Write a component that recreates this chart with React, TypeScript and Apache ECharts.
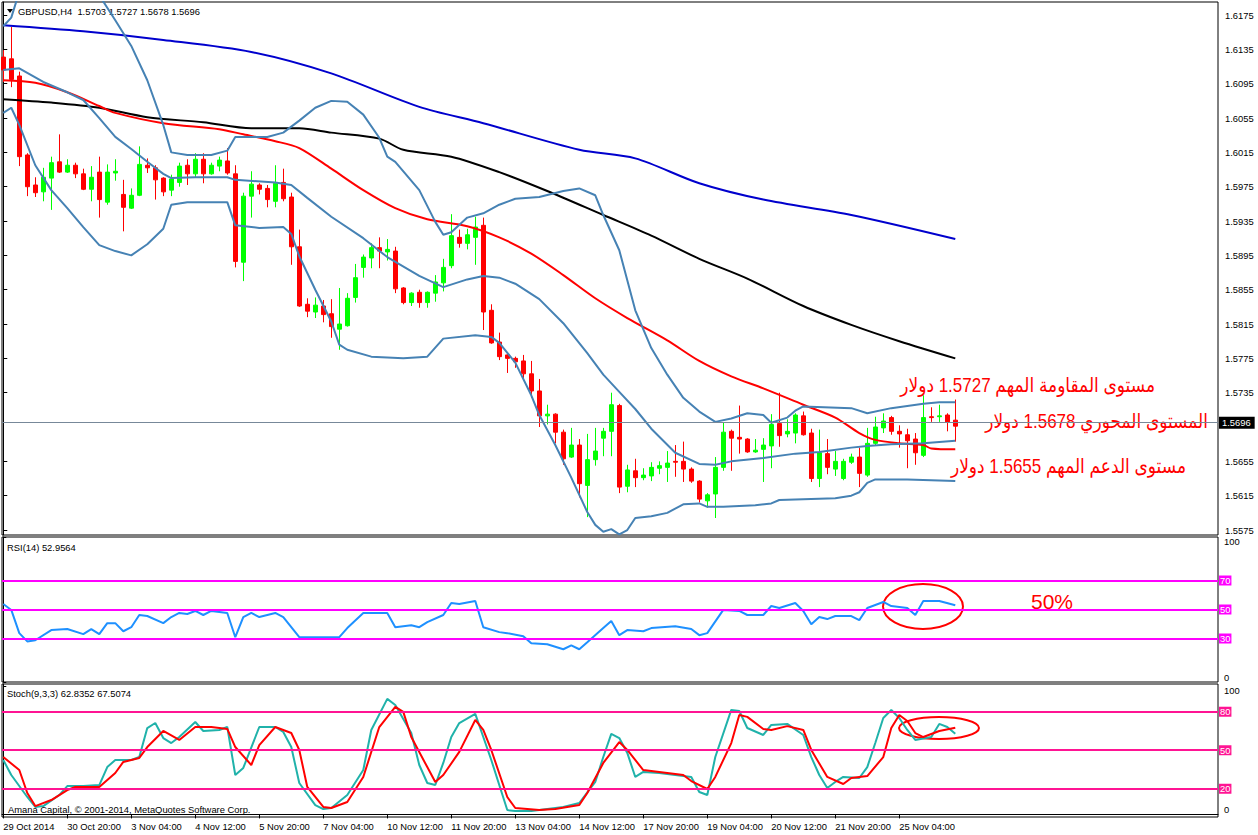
import React, { useEffect, useRef } from "react";
import * as echarts from "echarts";

const FONT = '"Liberation Sans", Arial, sans-serif';
const AR_FONT = '"Liberation Sans", "DejaVu Sans", sans-serif';

// GBPUSD H4 candles: [open, high, low, close]
const candles: number[][] = [
  [1.6126, 1.6134, 1.6097, 1.6111], [1.6124, 1.6161, 1.6091, 1.6100], [1.6104, 1.6109, 1.5999, 1.6010],
  [1.6012, 1.6014, 1.5964, 1.5975], [1.5977, 1.5986, 1.5963, 1.5968], [1.5969, 1.5997, 1.5958, 1.5986],
  [1.5985, 1.6010, 1.5948, 1.6003], [1.6004, 1.6036, 1.5991, 1.5992], [1.5992, 1.6007, 1.5991, 1.6000],
  [1.6000, 1.6003, 1.5985, 1.5990], [1.5990, 1.5996, 1.5971, 1.5972], [1.5972, 1.5999, 1.5958, 1.5986],
  [1.5992, 1.6010, 1.5939, 1.5960], [1.5957, 1.6001, 1.5954, 1.5992], [1.5991, 1.6007, 1.5982, 1.5993],
  [1.5966, 1.5983, 1.5923, 1.5951], [1.5950, 1.5973, 1.5949, 1.5965], [1.5965, 1.6022, 1.5964, 1.6001],
  [1.6000, 1.6008, 1.5991, 1.5997], [1.5997, 1.6000, 1.5960, 1.5983], [1.5985, 1.5986, 1.5964, 1.5969],
  [1.5971, 1.5989, 1.5964, 1.5984], [1.5980, 1.6003, 1.5975, 1.5999], [1.6000, 1.6007, 1.5977, 1.5990],
  [1.5990, 1.6014, 1.5986, 1.6007], [1.6007, 1.6014, 1.5979, 1.5990], [1.5990, 1.6003, 1.5989, 1.6000],
  [1.5999, 1.6010, 1.5993, 1.6006], [1.6005, 1.6020, 1.5989, 1.5991], [1.5990, 1.6000, 1.5881, 1.5888],
  [1.5887, 1.5968, 1.5865, 1.5964], [1.5964, 1.5993, 1.5939, 1.5978], [1.5977, 1.5979, 1.5966, 1.5972],
  [1.5973, 1.5977, 1.5951, 1.5960], [1.5958, 1.6000, 1.5951, 1.5979], [1.5980, 1.5996, 1.5958, 1.5961],
  [1.5963, 1.5968, 1.5884, 1.5905], [1.5905, 1.5925, 1.5835, 1.5836], [1.5838, 1.5845, 1.5823, 1.5830],
  [1.5829, 1.5846, 1.5822, 1.5837], [1.5836, 1.5843, 1.5817, 1.5826], [1.5827, 1.5844, 1.5799, 1.5812],
  [1.5809, 1.5857, 1.5785, 1.5815], [1.5813, 1.5851, 1.5812, 1.5845], [1.5846, 1.5885, 1.5840, 1.5869],
  [1.5881, 1.5896, 1.5869, 1.5893], [1.5892, 1.5909, 1.5880, 1.5904], [1.5904, 1.5916, 1.5880, 1.5900],
  [1.5899, 1.5914, 1.5889, 1.5902], [1.5900, 1.5905, 1.5851, 1.5856], [1.5857, 1.5858, 1.5838, 1.5840],
  [1.5840, 1.5852, 1.5836, 1.5851], [1.5852, 1.5855, 1.5834, 1.5840], [1.5840, 1.5853, 1.5834, 1.5852],
  [1.5851, 1.5872, 1.5841, 1.5864], [1.5863, 1.5891, 1.5853, 1.5881], [1.5883, 1.5943, 1.5880, 1.5918],
  [1.5916, 1.5925, 1.5904, 1.5909], [1.5909, 1.5926, 1.5902, 1.5919], [1.5916, 1.5940, 1.5884, 1.5928],
  [1.5930, 1.5939, 1.5808, 1.5829], [1.5831, 1.5838, 1.5792, 1.5793], [1.5794, 1.5805, 1.5773, 1.5777],
  [1.5779, 1.5780, 1.5758, 1.5775], [1.5775, 1.5777, 1.5764, 1.5771], [1.5772, 1.5779, 1.5750, 1.5757],
  [1.5757, 1.5772, 1.5729, 1.5737], [1.5737, 1.5751, 1.5695, 1.5708], [1.5708, 1.5721, 1.5698, 1.5710],
  [1.5710, 1.5711, 1.5676, 1.5689], [1.5689, 1.5692, 1.5651, 1.5658], [1.5660, 1.5694, 1.5659, 1.5674],
  [1.5674, 1.5681, 1.5613, 1.5629], [1.5627, 1.5687, 1.5590, 1.5657], [1.5657, 1.5694, 1.5650, 1.5667],
  [1.5682, 1.5694, 1.5661, 1.5690], [1.5690, 1.5735, 1.5661, 1.5721], [1.5720, 1.5722, 1.5618, 1.5625],
  [1.5626, 1.5651, 1.5619, 1.5645], [1.5644, 1.5658, 1.5625, 1.5636], [1.5636, 1.5647, 1.5633, 1.5639],
  [1.5638, 1.5654, 1.5632, 1.5648], [1.5647, 1.5655, 1.5640, 1.5650], [1.5648, 1.5667, 1.5631, 1.5653],
  [1.5655, 1.5674, 1.5637, 1.5654], [1.5655, 1.5678, 1.5631, 1.5646], [1.5646, 1.5648, 1.5630, 1.5632],
  [1.5632, 1.5633, 1.5607, 1.5611], [1.5609, 1.5618, 1.5601, 1.5616], [1.5617, 1.5660, 1.5589, 1.5648],
  [1.5648, 1.5700, 1.5644, 1.5689], [1.5690, 1.5692, 1.5644, 1.5682], [1.5683, 1.5720, 1.5664, 1.5681],
  [1.5681, 1.5682, 1.5665, 1.5666], [1.5666, 1.5681, 1.5665, 1.5668], [1.5669, 1.5682, 1.5631, 1.5674],
  [1.5673, 1.5710, 1.5647, 1.5698], [1.5699, 1.5735, 1.5672, 1.5685], [1.5687, 1.5704, 1.5683, 1.5690],
  [1.5688, 1.5711, 1.5676, 1.5709], [1.5708, 1.5713, 1.5685, 1.5686], [1.5688, 1.5693, 1.5631, 1.5635],
  [1.5635, 1.5692, 1.5625, 1.5665], [1.5664, 1.5681, 1.5640, 1.5648], [1.5646, 1.5667, 1.5638, 1.5655],
  [1.5635, 1.5658, 1.5633, 1.5655], [1.5654, 1.5664, 1.5652, 1.5660], [1.5660, 1.5671, 1.5625, 1.5641],
  [1.5639, 1.5694, 1.5637, 1.5676], [1.5676, 1.5707, 1.5674, 1.5695], [1.5694, 1.5711, 1.5688, 1.5702],
  [1.5706, 1.5708, 1.5686, 1.5690], [1.5690, 1.5697, 1.5671, 1.5687], [1.5686, 1.5693, 1.5647, 1.5679],
  [1.5681, 1.5688, 1.5651, 1.5665], [1.5662, 1.5732, 1.5660, 1.5706], [1.5707, 1.5718, 1.5701, 1.5706],
  [1.5707, 1.5721, 1.5701, 1.5708], [1.5709, 1.5711, 1.5690, 1.5701], [1.5703, 1.5727, 1.5678, 1.5696],
];

// time labels, one every 8 bars
const timeLabels = [
  "29 Oct 2014", "30 Oct 20:00", "3 Nov 04:00", "4 Nov 12:00", "5 Nov 20:00", "7 Nov 04:00",
  "10 Nov 12:00", "11 Nov 20:00", "13 Nov 04:00", "14 Nov 12:00", "17 Nov 20:00", "19 Nov 04:00",
  "20 Nov 12:00", "21 Nov 20:00", "25 Nov 04:00",
];
const priceTicks = [1.5575, 1.5615, 1.5655, 1.5735, 1.5775, 1.5815, 1.5855, 1.5895, 1.5935, 1.5975, 1.6015, 1.6055, 1.6095, 1.6135, 1.6175];
const lastPrice = 1.5696;
const rsiLevels = [70, 50, 30];
const stochLevels = [80, 50, 20];

// [bar index, value]
const blueMA = [[0, 1.6163], [10, 1.6156], [20, 1.6146], [31, 1.6132], [41, 1.6107], [52, 1.6068], [60, 1.6049], [72, 1.6018], [79, 1.6008], [87, 1.5979], [95, 1.5960], [106, 1.5942], [119, 1.5914]];
const blackMA = [[0, 1.6077], [6, 1.6073], [12, 1.6067], [18, 1.6056], [25, 1.6050], [31, 1.6043], [37, 1.6043], [41, 1.6038], [47, 1.6031], [50, 1.6018], [56, 1.6010], [62, 1.5992], [68, 1.5970], [75, 1.5942], [81, 1.5918], [87, 1.5891], [93, 1.5868], [100, 1.5836], [106, 1.5814], [112, 1.5795], [119, 1.5775]];
const redMA = [[0, 1.6099], [4, 1.6096], [8, 1.6085], [12, 1.6069], [14, 1.6061], [20, 1.6049], [27, 1.6042], [30, 1.6036], [34, 1.6028], [37, 1.6020], [41, 1.5996], [45, 1.5971], [49, 1.5950], [53, 1.5937], [58, 1.5929], [62, 1.5916], [66, 1.5897], [70, 1.5872], [74, 1.5845], [78, 1.5822], [83, 1.5796], [87, 1.5772], [91, 1.5754], [95, 1.5740], [100, 1.5721], [104, 1.5706], [107, 1.5688], [109, 1.5680], [112, 1.5676], [115, 1.5674], [116, 1.5670], [119, 1.5669]];
const bbUpper = [[0, 1.6162], [1, 1.6172], [2, 1.6202], [4, 1.6227], [7, 1.6241], [10, 1.6233], [12, 1.6198], [14, 1.6169], [16, 1.6139], [18, 1.6099], [20, 1.6047], [21, 1.6015], [23, 1.6012], [26, 1.6012], [28, 1.6017], [29, 1.6033], [33, 1.6033], [35, 1.6038], [37, 1.6052], [39, 1.6067], [41, 1.6075], [43, 1.6074], [45, 1.6059], [47, 1.6032], [48, 1.6010], [49, 1.6004], [52, 1.5971], [54, 1.5934], [55, 1.5919], [56, 1.5922], [58, 1.5939], [60, 1.5944], [62, 1.5954], [64, 1.5961], [67, 1.5963], [70, 1.5970], [72, 1.5973], [74, 1.5965], [75, 1.5942], [77, 1.5901], [79, 1.5831], [81, 1.5787], [83, 1.5756], [85, 1.5729], [87, 1.5713], [89, 1.5701], [91, 1.5705], [93, 1.5711], [95, 1.5709], [96, 1.5700], [98, 1.5706], [99, 1.5714], [100, 1.5719], [106, 1.5717], [108, 1.5711], [111, 1.5717], [115, 1.5722], [117, 1.5724], [119, 1.5724]];
const bbMiddle = [[0, 1.6111], [2, 1.6113], [5, 1.6097], [8, 1.6085], [10, 1.6076], [12, 1.6055], [14, 1.6033], [16, 1.6019], [18, 1.6004], [20, 1.5990], [21, 1.5985], [24, 1.5986], [28, 1.5986], [29, 1.5983], [34, 1.5980], [36, 1.5977], [38, 1.5962], [41, 1.5940], [45, 1.5915], [48, 1.5893], [52, 1.5871], [55, 1.5858], [58, 1.5867], [60, 1.5871], [62, 1.5869], [64, 1.5862], [67, 1.5844], [70, 1.5816], [73, 1.5781], [75, 1.5756], [77, 1.5736], [79, 1.5716], [81, 1.5693], [84, 1.5665], [87, 1.5652], [89, 1.5651], [91, 1.5655], [95, 1.5659], [99, 1.5664], [102, 1.5666], [106, 1.5671], [108, 1.5673], [111, 1.5675], [115, 1.5676], [119, 1.5679]];
const bbLower = [[0, 1.6061], [1, 1.6067], [2, 1.6047], [4, 1.6000], [6, 1.5971], [8, 1.5950], [10, 1.5928], [12, 1.5907], [14, 1.5900], [16, 1.5895], [18, 1.5908], [20, 1.5926], [21, 1.5954], [23, 1.5957], [28, 1.5957], [29, 1.5930], [32, 1.5927], [35, 1.5928], [36, 1.5920], [37, 1.5894], [39, 1.5855], [41, 1.5818], [42, 1.5791], [43, 1.5785], [46, 1.5777], [50, 1.5775], [53, 1.5777], [55, 1.5798], [59, 1.5802], [61, 1.5800], [62, 1.5793], [64, 1.5770], [66, 1.5732], [67, 1.5709], [69, 1.5674], [71, 1.5636], [73, 1.5596], [74, 1.5581], [75, 1.5573], [76, 1.5576], [77, 1.5570], [78, 1.5575], [79, 1.5589], [81, 1.5591], [83, 1.5595], [85, 1.5605], [87, 1.5606], [88, 1.5602], [90, 1.5602], [94, 1.5604], [96, 1.5606], [97, 1.5610], [104, 1.5612], [106, 1.5615], [107, 1.5619], [108, 1.5630], [109, 1.5634], [113, 1.5634], [119, 1.5632]];
const rsi14 = [[0, 53.8], [1, 49.7], [2, 33.7], [3, 28], [4, 28.8], [6, 35.8], [8, 36.5], [10, 33], [11, 36.5], [12, 33], [13, 40.6], [14, 40.6], [15, 35], [16, 37.8], [17, 46.2], [18, 45.5], [20, 40.6], [21, 44.8], [22, 47.6], [23, 46.9], [24, 49], [25, 46.2], [26, 49], [27, 48.3], [28, 47.6], [29, 30.9], [30, 44.8], [31, 47.6], [32, 44.8], [34, 47.6], [35, 44.8], [37, 30.9], [39, 30.9], [41, 30.9], [42, 30.9], [43, 37.2], [45, 47.6], [48, 47.6], [49, 37.8], [51, 39.2], [52, 37.8], [53, 41.3], [55, 46.2], [56, 54.5], [57, 53.8], [59, 55.9], [60, 37.8], [62, 34.4], [63, 33.7], [65, 31.6], [66, 26.7], [68, 26], [70, 22.6], [71, 25.3], [72, 22.6], [73, 27.4], [75, 37.2], [76, 42], [77, 32.3], [78, 35.8], [80, 35], [81, 37.2], [84, 38.5], [86, 36.5], [87, 32.3], [88, 33.7], [90, 49.7], [92, 49], [93, 46.2], [95, 46.2], [96, 52.4], [97, 51], [99, 54.5], [100, 49], [101, 39.9], [102, 44.8], [103, 43.4], [104, 45.5], [106, 45.5], [107, 42.7], [108, 51], [110, 55.2], [111, 52.4], [113, 51], [114, 46.2], [115, 55.9], [117, 55.9], [119, 52.96]];
const stochK = [[0, 42.4], [1, 30.7], [3, 13.6], [4, 5.8], [5, 6.5], [7, 15.1], [8, 22.1], [10, 22.1], [12, 22.9], [13, 36.9], [14, 42.4], [16, 42.4], [17, 44.7], [18, 67.3], [19, 71.2], [20, 59.5], [21, 55.6], [22, 60.3], [24, 72], [25, 65], [27, 65.8], [28, 68.1], [29, 30.7], [30, 36.2], [32, 68.1], [34, 68.1], [35, 64.2], [36, 52.5], [37, 24.5], [39, 7.3], [40, 4.2], [41, 5], [43, 15.1], [45, 34.6], [46, 65.8], [48, 90], [49, 85.3], [51, 63.4], [52, 38.5], [53, 24.5], [54, 22.9], [55, 40.1], [56, 60.3], [57, 71.2], [59, 78.3], [60, 60.3], [61, 42.4], [63, 3.4], [64, 2.6], [66, 2.6], [67, 3.4], [70, 5.8], [72, 8.9], [74, 25.3], [75, 44.7], [76, 62.7], [77, 59.5], [78, 47.9], [79, 29.2], [80, 33.1], [82, 32.3], [84, 30.7], [86, 29.2], [87, 17.5], [88, 15.1], [89, 44.7], [91, 81.4], [92, 80.6], [93, 67.3], [95, 61.9], [96, 69.7], [98, 70.5], [100, 61.9], [101, 44.7], [102, 30.7], [103, 20.6], [104, 25.3], [105, 29.2], [107, 28.4], [108, 36.9], [109, 55.6], [110, 75.1], [111, 81.4], [112, 75.1], [113, 65.8], [114, 58], [116, 60.3], [117, 70.5], [118, 68.1], [119, 62.84]];
const stochD = [[0, 44.7], [2, 34.6], [3, 16.7], [4, 6.5], [6, 11.2], [8, 19], [9, 21.4], [12, 21.4], [14, 32.3], [15, 40.9], [17, 44], [18, 52.5], [20, 65], [22, 58], [24, 68.1], [26, 68.1], [28, 66.6], [29, 52.5], [31, 38.5], [32, 54], [34, 68.1], [36, 63.4], [37, 50.2], [38, 21.4], [40, 5.8], [41, 5], [43, 9.7], [45, 29.2], [47, 68.1], [49, 83.8], [50, 79.9], [51, 60.3], [53, 36.9], [54, 25.3], [55, 30.7], [57, 48.7], [59, 73.6], [60, 65.8], [61, 50.2], [63, 13.6], [64, 5], [67, 3.4], [69, 4.2], [72, 7.3], [73, 16.7], [75, 40.1], [77, 56.4], [78, 50.2], [80, 34.6], [82, 33.1], [85, 30.7], [86, 26], [88, 19.8], [89, 29.2], [91, 55.6], [92, 77.5], [93, 76], [95, 66.6], [96, 65.8], [98, 68.8], [100, 65.8], [101, 50.2], [103, 29.2], [105, 23.7], [106, 28.4], [108, 29.9], [110, 44.7], [111, 67.3], [112, 77.5], [113, 72.8], [114, 63.4], [115, 60.3], [117, 65], [119, 67.51]];

const X_MIN = -0.16;
const X_MAX = 151.84;
const FS = 9.4;

function line(data: number[][], color: string, idx: number, width = 2, smooth: number | boolean = false) {
  return {
    type: "line", data, xAxisIndex: idx, yAxisIndex: idx, showSymbol: false, symbol: "none",
    smooth, silent: true, clip: true, z: 3,
    lineStyle: { color, width }, itemStyle: { color },
  };
}

function levelMark(levels: number[], color: string) {
  return {
    silent: true, symbol: ["none", "none"],
    lineStyle: { color, width: 2, type: "solid" },
    label: { show: true, position: "end", distance: 1, formatter: "{c}", color: "#fff", backgroundColor: color, padding: [1, 1, 0, 1], fontSize: FS, fontFamily: FONT },
    emphasis: { disabled: true },
    data: levels.map((v) => ({ yAxis: v })),
  };
}

function arText(text: string, x: number, y: number) {
  return {
    type: "text", x, y, scaleX: 0.85, silent: true,
    style: { text, fill: "#ff0000", fontSize: 20, fontFamily: AR_FONT, align: "right", verticalAlign: "middle" },
  };
}

function buildOption() {
  const tickIdx = timeLabels.map((_, k) => k * 8);
  const xBase = (g: number) => ({
    type: "value", gridIndex: g, min: X_MIN, max: X_MAX, splitLine: { show: false },
  });
  return {
    animation: false,
    backgroundColor: "#fff",
    textStyle: { fontFamily: FONT },
    grid: [
      { left: 2, top: 2, width: 1216, height: 533, show: true, borderColor: "#000", borderWidth: 1 },
      { left: 2, top: 537, width: 1216, height: 145, show: true, borderColor: "#000", borderWidth: 1 },
      { left: 2, top: 684, width: 1216, height: 133, show: true, borderColor: "#000", borderWidth: 1 },
    ],
    xAxis: [
      { ...xBase(0), show: false },
      { ...xBase(1), show: false },
      {
        ...xBase(2), show: true,
        axisLine: { show: true, lineStyle: { color: "#000", width: 1 } },
        axisTick: { show: true, customValues: tickIdx, length: 4, inside: false, lineStyle: { color: "#000" } },
        axisLabel: {
          show: true, customValues: tickIdx, align: "left", margin: 5, fontSize: FS, color: "#000", fontFamily: FONT,
          formatter: (v: number) => timeLabels[Math.round(v / 8)] ?? "",
        },
      },
    ],
    yAxis: [
      {
        type: "value", gridIndex: 0, position: "right", min: 1.55692, max: 1.61902, scale: true,
        splitLine: { show: false },
        axisLine: { show: true, lineStyle: { color: "#000", width: 1 } },
        axisTick: { show: true, customValues: priceTicks, length: 4, lineStyle: { color: "#000" } },
        axisLabel: { customValues: priceTicks, margin: 7, fontSize: FS, color: "#000", fontFamily: FONT, formatter: (v: number) => v.toFixed(4) },
      },
      {
        type: "value", gridIndex: 1, position: "right", min: 0, max: 100,
        splitLine: { show: false },
        axisLine: { show: true, lineStyle: { color: "#000", width: 1 } },
        axisTick: { show: true, customValues: [0, 30, 50, 70, 100], length: 3, lineStyle: { color: "#000" } },
        axisLabel: { customValues: [0, 100], margin: 6, fontSize: FS, color: "#000", fontFamily: FONT, verticalAlignMinLabel: "bottom", verticalAlignMaxLabel: "top" },
      },
      {
        type: "value", gridIndex: 2, position: "right", min: -2, max: 101.6,
        splitLine: { show: false },
        axisLine: { show: true, lineStyle: { color: "#000", width: 1 } },
        axisTick: { show: true, customValues: [0, 20, 50, 80, 100], length: 3, lineStyle: { color: "#000" } },
        axisLabel: { customValues: [0, 100], margin: 6, fontSize: FS, color: "#000", fontFamily: FONT, verticalAlignMinLabel: "bottom", verticalAlignMaxLabel: "top" },
      },
    ],
    series: [
      {
        type: "candlestick", xAxisIndex: 0, yAxisIndex: 0, barWidth: 4, silent: true, clip: true,
        encode: { x: 0, y: [1, 2, 3, 4] },
        data: candles.map((c, i) => [i, c[0], c[3], c[2], c[1]]),
        itemStyle: { color: "#00ff00", color0: "#ff0000", borderColor: "#00ff00", borderColor0: "#ff0000", borderWidth: 1 },
        markLine: {
          silent: true, symbol: ["none", "none"],
          lineStyle: { color: "#778899", width: 1, type: "solid" },
          label: { show: true, position: "end", distance: 1, formatter: lastPrice.toFixed(4), color: "#fff", backgroundColor: "#000", padding: [2, 4, 1, 3], fontSize: FS, fontFamily: FONT },
          data: [{ yAxis: lastPrice }],
        },
      },
      line(blueMA, "#0000cd", 0, 2, 0.3),
      line(blackMA, "#000000", 0, 2, 0.3),
      line(redMA, "#ff0000", 0, 2, 0.3),
      line(bbUpper, "#4682b4", 0, 2),
      line(bbMiddle, "#4682b4", 0, 2),
      line(bbLower, "#4682b4", 0, 2),
      { ...line(rsi14, "#1e90ff", 1, 2), markLine: levelMark(rsiLevels, "#ff00ff") },
      { ...line(stochK, "#20b2aa", 2, 2), markLine: levelMark(stochLevels, "#ff1493") },
      line(stochD, "#ff0000", 2, 2),
    ],
    graphic: [
      { type: "polygon", shape: { points: [[7, 9], [13, 9], [10, 13]] }, style: { fill: "#000" }, silent: true },
      { type: "text", x: 18, y: 11, style: { text: "GBPUSD,H4  1.5703 1.5727 1.5678 1.5696", fill: "#000", fontSize: FS, fontFamily: FONT, verticalAlign: "middle" } },
      { type: "text", x: 7, y: 547, style: { text: "RSI(14) 52.9564", fill: "#000", fontSize: FS, fontFamily: FONT, verticalAlign: "middle" } },
      { type: "text", x: 7, y: 693, style: { text: "Stoch(9,3,3) 62.8352 67.5074", fill: "#000", fontSize: FS, fontFamily: FONT, verticalAlign: "middle" } },
      { type: "text", x: 8, y: 809, style: { text: "Amana Capital, © 2001-2014, MetaQuotes Software Corp.", fill: "#000", fontSize: FS, fontFamily: FONT, verticalAlign: "middle" } },
      arText("مستوى المقاومة المهم 1.5727 دولار", 1155, 385),
      arText("المستوى المحوري 1.5678 دولار", 1208, 421),
      arText("مستوى الدعم المهم 1.5655 دولار", 1186, 466),
      { type: "text", x: 1031, y: 601, style: { text: "50%", fill: "#ff0000", fontSize: 21, fontFamily: FONT, verticalAlign: "middle" } },
      { type: "ellipse", shape: { cx: 923, cy: 606.5, rx: 40, ry: 22.5 }, style: { fill: "transparent", stroke: "#ff0000", lineWidth: 2 }, silent: true },
      { type: "ellipse", shape: { cx: 939, cy: 728, rx: 40, ry: 11 }, style: { fill: "transparent", stroke: "#ff0000", lineWidth: 2 }, silent: true },
    ],
  };
}

export default function App() {
  const ref = useRef<HTMLDivElement>(null);
  useEffect(() => {
    if (!ref.current) return;
    const chart = echarts.init(ref.current, null, { renderer: "svg" });
    chart.setOption(buildOption() as any);
    return () => chart.dispose();
  }, []);
  return (
    <div
      ref={ref}
      style={{ position: "fixed", left: 0, top: 0, width: 1258, height: 835, background: "#fff" }}
    />
  );
}
